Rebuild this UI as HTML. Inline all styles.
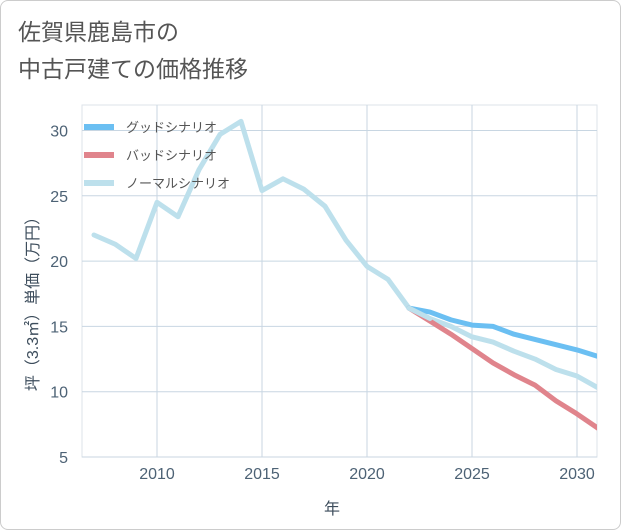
<!DOCTYPE html>
<html><head><meta charset="utf-8"><style>
body{margin:0;background:#fff;font-family:"Liberation Sans","Noto Sans CJK JP",sans-serif;}
#wrap{position:relative;width:619px;height:528px;border:1px solid #ccc;border-radius:8px;background:#fff;overflow:hidden;}
</style></head><body>
<div id="wrap">
<svg id="chart" width="621" height="530" style="position:absolute;left:-1px;top:-1px">
<text x="18" y="40" font-size="23" fill="#555">佐賀県鹿島市の</text>
<text x="18" y="77" font-size="23" fill="#555">中古戸建ての価格推移</text>
<g id="grid"></g><g id="axes"></g><g id="series"></g><g id="legend"></g>
<text x="332" y="514" font-size="16" fill="#3d4d5c" text-anchor="middle">年</text>
<text transform="translate(38,300) rotate(-90)" font-size="16" fill="#3d4d5c" text-anchor="middle">坪（3.3㎡）単価（万円）</text>
</svg>
</div>
<script>
const years=[2007,2008,2009,2010,2011,2012,2013,2014,2015,2016,2017,2018,2019,2020,2021,2022,2023,2024,2025,2026,2027,2028,2029,2030,2031];
const normalVals=[22,21.3,20.2,24.5,23.4,27,29.7,30.7,25.4,26.3,25.5,24.2,21.6,19.6,18.6,16.4,15.6,15.0,14.2,13.8,13.1,12.5,11.7,11.2,10.3];
const futureYears=[2022,2023,2024,2025,2026,2027,2028,2029,2030,2031];
const goodVals=[16.4,16.1,15.5,15.1,15.0,14.4,14.0,13.6,13.2,12.7];
const badVals=[16.4,15.4,14.4,13.3,12.2,11.3,10.5,9.3,8.3,7.2];
const xTicks=[2010,2015,2020,2025,2030];
const yTicks=[5,10,15,20,25,30];
const NS='http://www.w3.org/2000/svg';
const L=82,R=597,T=105,B=457;
const x=v=>157+(v-2010)*21;
const y=v=>457-(v-5)*13.06;
function mk(tag,attrs,parent){const e=document.createElementNS(NS,tag);for(const k in attrs)e.setAttribute(k,attrs[k]);parent.appendChild(e);return e;}
const grid=document.getElementById('grid'),axes=document.getElementById('axes'),ser=document.getElementById('series'),leg=document.getElementById('legend');
const bg=mk('rect',{x:L,y:T,width:R-L,height:B-T,fill:'#fff',stroke:'#dde3ea'},grid);


xTicks.forEach(t=>{const l=mk('line',{x1:x(t),x2:x(t),y1:T,y2:B,stroke:'#c8d6e2'},grid);


const tx=mk('text',{x:x(t),y:479,'font-size':16,fill:'#4d6275','text-anchor':'middle'},axes);tx.textContent=t;

});
yTicks.forEach(t=>{const l=mk('line',{x1:L,x2:R,y1:y(t),y2:y(t),stroke:'#c8d6e2'},grid);


const tx=mk('text',{x:68,y:y(t)+6,'font-size':16,fill:'#4d6275','text-anchor':'end'},axes);tx.textContent=t;

});
function line(xs,vs,color,name){const d=xs.map((v,i)=>(i?'L':'M')+x(v)+','+y(vs[i])).join('');
const p=mk('path',{d:d,fill:'none',stroke:color,'stroke-width':5,'stroke-linejoin':'round','stroke-linecap':'round'},ser);

}
const cp=mk('clipPath',{id:'cp'},ser);mk('rect',{x:L,y:T,width:R-L,height:B-T},cp);ser.setAttribute('clip-path','url(#cp)');
line(years,normalVals,'#bde0ec','normal-scenario-line');
line(futureYears,badVals,'#e0848c','bad-scenario-line');
line(futureYears,goodVals,'#6bbff2','good-scenario-line');
line(futureYears.slice(0,2),normalVals.slice(15,17),'#bde0ec','normal-scenario-overlap');
[['グッドシナリオ','#6bbff2','legend-good'],['バッドシナリオ','#e0848c','legend-bad'],['ノーマルシナリオ','#bde0ec','legend-normal']].forEach((e,i)=>{
const g=mk('g',{},leg);


const yy=127+i*28;
mk('line',{x1:84,x2:114,y1:yy,y2:yy,stroke:e[1],'stroke-width':6},g);
const t=mk('text',{x:126,y:yy+5,'font-size':13,fill:'#555'},g);t.textContent=e[0];});
</script>
</body></html>
